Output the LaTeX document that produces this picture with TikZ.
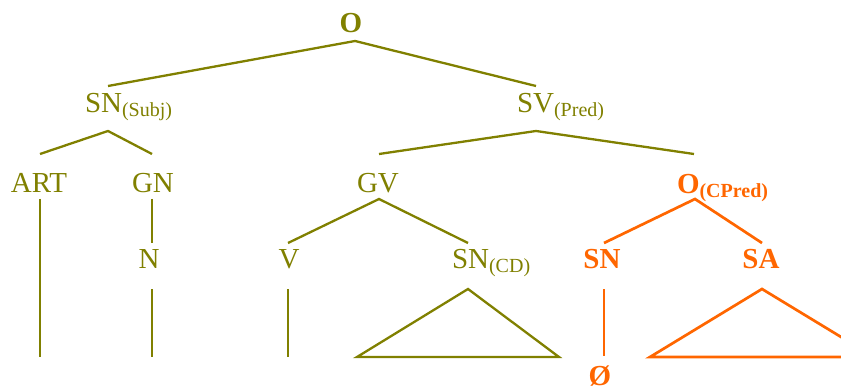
\documentclass[tikz,border=0pt]{standalone}
\usepackage{fontspec}
\setmainfont{Liberation Serif}
\definecolor{olivec}{RGB}{128,128,0}
\definecolor{orangec}{RGB}{255,102,0}
\newcommand{\bigtxt}{\fontsize{29}{32}\selectfont}
\newcommand{\subtxt}[1]{\raisebox{-4pt}{\fontsize{20}{22}\selectfont #1}}
\begin{document}
\begin{tikzpicture}[x=1pt,y=-1pt,
  lbl/.style={inner sep=0pt, outer sep=0pt, font=\bigtxt},
  olab/.style={lbl, text=olivec},
  rlab/.style={lbl, text=orangec, font=\bigtxt\bfseries},
  oline/.style={draw=olivec, line width=2.3pt},
  rline/.style={draw=orangec, line width=2.7pt}]
\useasboundingbox (0,0) rectangle (841,390);
\clip (0,0) rectangle (841,390);
% labels
\node[olab, font=\bigtxt\bfseries, anchor=base] (O) at (351,33) {O};
\node[olab, anchor=base west] (SNs) at (85,113) {SN\subtxt{(Subj)}};
\node[olab, anchor=base west] (SVp) at (517,113) {SV\subtxt{(Pred)}};
\node[olab, anchor=base] (ART) at (39,193) {ART};
\node[olab, anchor=base] (GN) at (153,193) {GN};
\node[olab, anchor=base] (GV) at (378,193) {GV};
\node[rlab, anchor=base west] (OC) at (677,194) {O\subtxt{\bfseries(CPred)}};
\node[olab, anchor=base] (N) at (149,269) {N};
\node[olab, anchor=base] (V) at (289,269) {V};
\node[olab, anchor=base west] (SNcd) at (452,269) {SN\subtxt{(CD)}};
\node[rlab, anchor=base] (SNr) at (602,269) {SN};
\node[rlab, anchor=base] (SA) at (761,269) {SA};
\node[rlab, anchor=base] (Oslash) at (600,385) {Ø};
% line end points
\coordinate (O-b) at (355,41);
\coordinate (SNs-t) at (108,86);
\coordinate (SVp-t) at (536,86);
\coordinate (SNs-b) at (108,131);
\coordinate (ART-t) at (40,154);
\coordinate (GN-t) at (152,154);
\coordinate (SVp-b) at (536,131);
\coordinate (GV-t) at (379,154);
\coordinate (OC-t) at (694,154);
\coordinate (ART-b) at (40,199);
\coordinate (ART-e) at (40,357);
\coordinate (GN-b) at (152,199);
\coordinate (N-t) at (152,243);
\coordinate (N-b) at (152,289);
\coordinate (N-e) at (152,357);
\coordinate (GV-b) at (379,199);
\coordinate (V-t) at (288,243);
\coordinate (SNcd-t) at (468,243);
\coordinate (V-b) at (288,289);
\coordinate (V-e) at (288,357);
\coordinate (SNcd-b) at (468,289);
\coordinate (T1-l) at (357,357);
\coordinate (T1-r) at (559,357);
\coordinate (OC-b) at (695,199);
\coordinate (SNr-t) at (604,243);
\coordinate (SA-t) at (762,243);
\coordinate (SNr-b) at (604,289);
\coordinate (SNr-e) at (604,356);
\coordinate (SA-b) at (762,289);
\coordinate (T2-l) at (650,357);
\coordinate (T2-r) at (874,357);
% olive lines
\draw[oline] (SNs-t) -- (O-b) -- (SVp-t);
\draw[oline] (ART-t) -- (SNs-b) -- (GN-t);
\draw[oline] (GV-t) -- (SVp-b) -- (OC-t);
\draw[oline] (ART-b) -- (ART-e);
\draw[oline] (GN-b) -- (N-t);
\draw[oline] (N-b) -- (N-e);
\draw[oline] (V-t) -- (GV-b) -- (SNcd-t);
\draw[oline] (V-b) -- (V-e);
\draw[oline, line join=miter] (SNcd-b) -- (T1-l) -- (T1-r) -- cycle;
% orange lines
\draw[rline] (SNr-t) -- (OC-b) -- (SA-t);
\draw[rline] (SNr-b) -- (SNr-e);
\draw[rline, line join=miter] (SA-b) -- (T2-l) -- (T2-r) -- cycle;
\end{tikzpicture}
\end{document}
